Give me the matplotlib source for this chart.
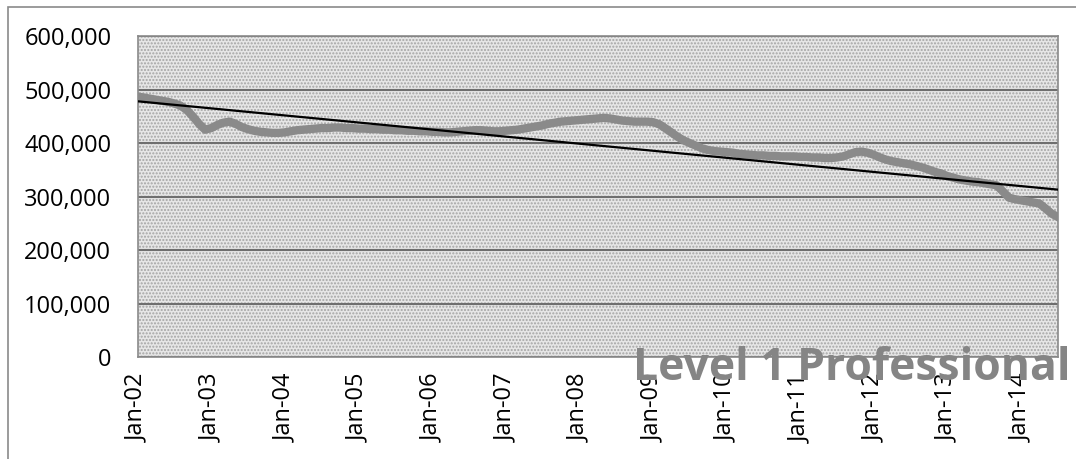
import numpy as np
import pandas as pd
import matplotlib
matplotlib.use("Agg")
import matplotlib.pyplot as plt
import matplotlib.dates as mdates
from matplotlib.ticker import FuncFormatter, MultipleLocator
from matplotlib.patches import Rectangle

plt.rcParams['font.family'] = ['Open Sans', 'DejaVu Sans']

# monthly values, Jan 2002 .. Jul 2014
v2002 = [487, 485, 483, 481, 479, 477, 474, 470, 462, 450, 436, 425]
v2003 = [428, 434, 438, 440, 436, 430, 426, 423, 421, 420, 419, 419]
v2004 = [420, 422, 424, 425, 426, 427, 428, 428, 429, 429, 428, 428]
v2005 = [427, 427, 426, 426, 425, 425, 424, 424, 423, 423, 422, 422]
v2006 = [421, 421, 420, 420, 421, 422, 423, 424, 424, 423, 422, 422]
v2007 = [423, 424, 425, 427, 429, 431, 433, 436, 438, 440, 441, 442]
v2008 = [443, 444, 445, 446, 447, 446, 444, 442, 441, 440, 440, 440]
v2009 = [439, 435, 428, 420, 412, 405, 400, 395, 390, 387, 385, 384]
v2010 = [383, 382, 380, 379, 378, 377, 377, 376, 376, 375, 375, 375]
v2011 = [374, 374, 373, 373, 372, 372, 373, 375, 379, 383, 384, 382]
v2012 = [378, 373, 369, 366, 364, 362, 360, 357, 354, 350, 346, 343]
v2013 = [338, 335, 332, 330, 328, 327, 325, 323, 321, 310, 298, 295]
v2014 = [293, 291, 289, 287, 278, 268, 262]

values = np.array(v2002 + v2003 + v2004 + v2005 + v2006 + v2007 + v2008 +
                  v2009 + v2010 + v2011 + v2012 + v2013 + v2014) * 1000
dates = pd.date_range('2002-01-01', periods=len(values), freq='MS')

# linear trend line, start and end values
trend_values = [478000, 313000]

label_text = 'Level 1 Professional'

fig = plt.figure(figsize=(10.76, 4.59), dpi=100)
ax = fig.add_axes([0.128, 0.222, 0.855, 0.6995])

# stippled plot area
ax.set_facecolor('#e6e6e6')
ax.patch.set_hatch('.....')
ax.patch.set_edgecolor('#a4a4a4')
ax.patch.set_linewidth(0)

ax.plot(dates, values, color='#8a8a8a', lw=6, solid_joinstyle='round', zorder=3)
ax.plot([dates[0], dates[-1]], trend_values, color='black', lw=1.6, zorder=4)

ax.set_ylim(0, 600000)
ax.set_xlim(dates[0], dates[-1])
ax.yaxis.set_major_locator(MultipleLocator(100000))
ax.yaxis.set_major_formatter(FuncFormatter(lambda v, p: f'{int(v):,}'))
ax.grid(axis='y', color='#6e6e6e', lw=1.5, zorder=1)
ax.set_axisbelow(True)

ax.xaxis.set_major_locator(mdates.YearLocator())
ax.xaxis.set_major_formatter(mdates.DateFormatter('Jan-%y'))
plt.setp(ax.get_xticklabels(), rotation=90, fontsize=17)
plt.setp(ax.get_yticklabels(), fontsize=17)
ax.tick_params(axis='both', length=0)
ax.tick_params(axis='y', pad=19)
ax.tick_params(axis='x', pad=12)

for s in ax.spines.values():
    s.set_color('#8a8a8a')
    s.set_linewidth(1.2)

# chart area border
fig.patches.append(Rectangle((8 / 1076, -0.1), 1.2, 1.1 - 7 / 459,
                             transform=fig.transFigure, fill=False,
                             edgecolor='#8a8a8a', lw=1.2))

fig.text(0.588, 0.172, label_text, fontsize=32, fontweight='bold',
         color='#858585', va='baseline', ha='left', zorder=10)

plt.savefig('out.png', dpi=100)
